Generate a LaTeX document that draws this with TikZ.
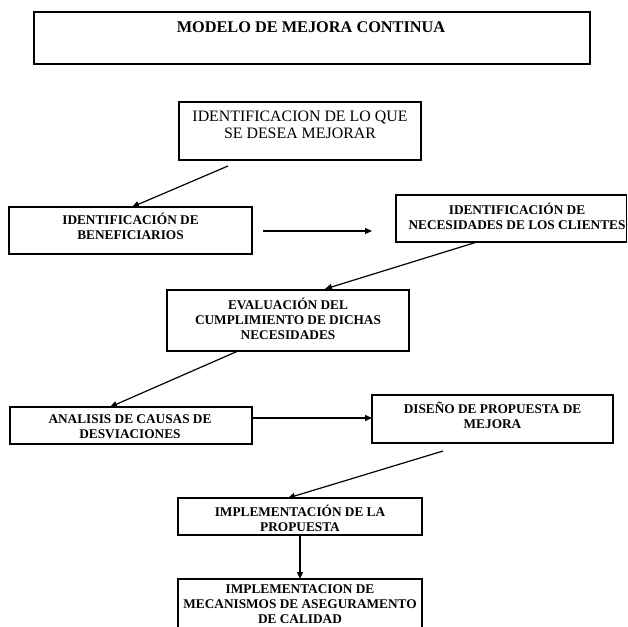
\documentclass[tikz,border=0pt]{standalone}
\usepackage{fontspec}
\setmainfont{Liberation Serif}
\usetikzlibrary{arrows.meta}
\begin{document}
\begin{tikzpicture}[x=1pt,y=-1pt,
  box/.style={draw, line width=1.5pt, rectangle, inner sep=0pt},
  lbl/.style={align=center, inner sep=0pt, font=\bfseries\fontsize{13.3}{15}\selectfont},
  big/.style={align=center, inner sep=0pt, font=\fontsize{15.9}{16.5}\selectfont},
  ttl/.style={align=center, inner sep=0pt, font=\bfseries\fontsize{16.3}{18}\selectfont},
  arr/.style={line width=1.2pt, -{Triangle[length=7pt,width=6pt]}}]
\useasboundingbox (0,0) rectangle (628,626);
\clip (0,0) rectangle (628,626);
% boxes
\node[box, minimum width=556pt, minimum height=52pt] (t) at (312,38) {};
\node[box, minimum width=242pt, minimum height=58pt] (b1) at (300,131) {};
\node[box, minimum width=243pt, minimum height=47pt] (b2) at (130.5,230.5) {};
\node[box, minimum width=230.5pt, minimum height=47pt] (b3) at (511.25,218.5) {};
\node[box, minimum width=242pt, minimum height=61pt] (b4) at (288,320.5) {};
\node[box, minimum width=242pt, minimum height=37pt] (b5) at (131,425.5) {};
\node[box, minimum width=241pt, minimum height=48pt] (b6) at (492.5,419) {};
\node[box, minimum width=244pt, minimum height=37pt] (b7) at (300,516.5) {};
\node[box, minimum width=244pt, minimum height=80pt] (b8) at (300,619) {};
% texts
\node[ttl] (tt) at (311,27) {MODELO DE MEJORA CONTINUA};
\node[big] (t1) at (300,125) {IDENTIFICACION DE LO QUE\\SE DESEA MEJORAR};
\node[lbl] (t2) at (130.5,226) {IDENTIFICACIÓN DE\\BENEFICIARIOS};
\node[lbl] (t3) at (517,216.5) {IDENTIFICACIÓN DE\\NECESIDADES DE LOS CLIENTES};
\node[lbl] (t4) at (288,319) {EVALUACIÓN DEL\\CUMPLIMIENTO DE DICHAS\\NECESIDADES};
\node[lbl] (t5) at (130,427) {ANALISIS DE CAUSAS DE\\DESVIACIONES};
\node[lbl] (t6) at (492.5,415.5) {DISEÑO DE PROPUESTA DE\\MEJORA};
\node[lbl] (t7) at (300,518.5) {IMPLEMENTACIÓN DE LA\\PROPUESTA};
\node[lbl] (t8) at (300,604) {IMPLEMENTACION DE\\MECANISMOS DE ASEGURAMENTO\\DE CALIDAD};
% connector ends
\coordinate (a1s) at (228,166);
\coordinate (a1e) at (132,207);
\coordinate (a2s) at (263,231);
\coordinate (a2e) at (372,231);
\coordinate (a3s) at (477,242);
\coordinate (a3e) at (325,289);
\coordinate (a4s) at (238,351);
\coordinate (a4e) at (110,407);
\coordinate (a5s) at (252,418);
\coordinate (a5e) at (372,418);
\coordinate (a6s) at (443,451);
\coordinate (a6e) at (288,498);
\coordinate (a7s) at (300,535);
\coordinate (a7e) at (300,579);
% connectors
\draw[arr] (a1s) -- (a1e);
\draw[arr] (a2s) -- (a2e);
\draw[arr] (a3s) -- (a3e);
\draw[arr] (a4s) -- (a4e);
\draw[arr] (a5s) -- (a5e);
\draw[arr] (a6s) -- (a6e);
\draw[arr] (a7s) -- (a7e);
\end{tikzpicture}
\end{document}
